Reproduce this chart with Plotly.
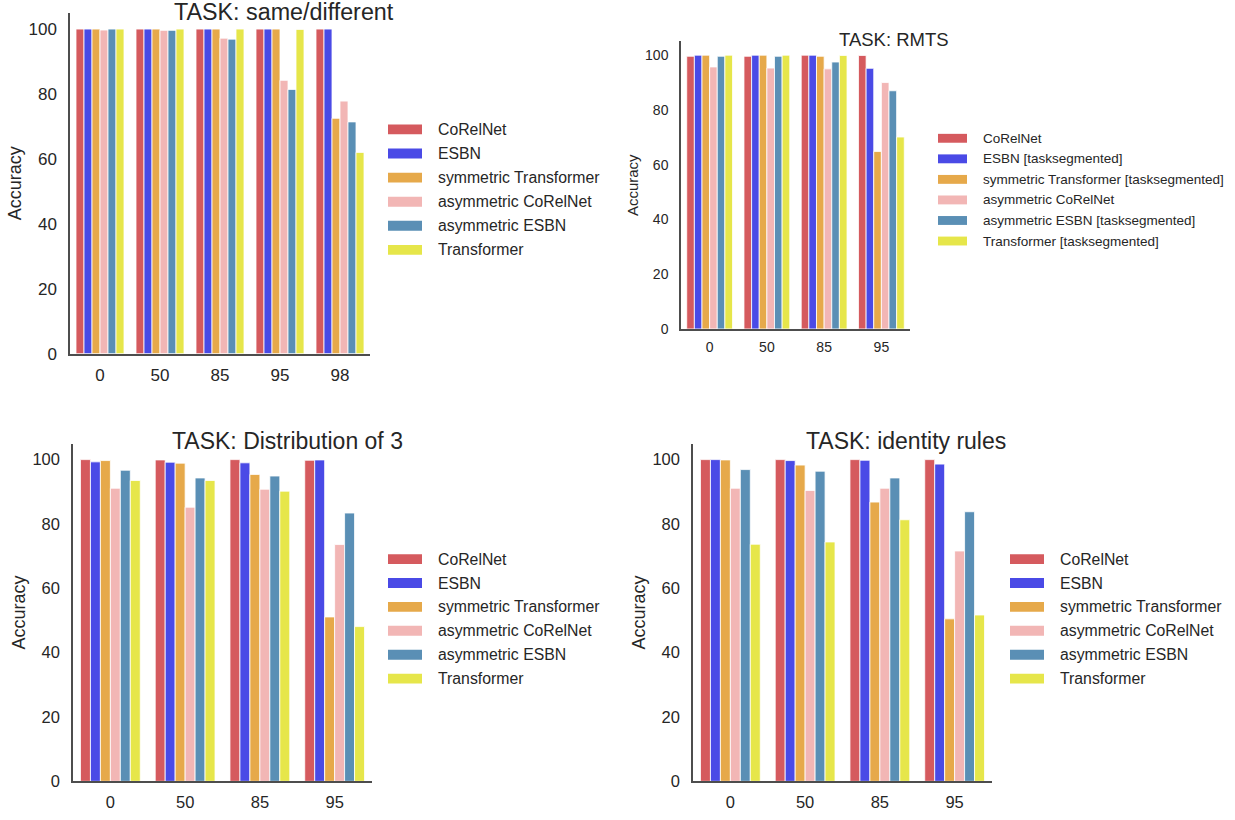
import plotly.graph_objects as go

W, H = 1235, 820

# ---- data -------------------------------------------------------------
models = ["CoRelNet", "ESBN", "symmetric Transformer",
          "asymmetric CoRelNet", "asymmetric ESBN", "Transformer"]
models_rmts = ["CoRelNet", "ESBN [tasksegmented]",
               "symmetric Transformer [tasksegmented]", "asymmetric CoRelNet",
               "asymmetric ESBN [tasksegmented]", "Transformer [tasksegmented]"]
colors = ["#d55a5e", "#4a4ae6", "#e6a94a", "#f2b6b5", "#5a8fb5", "#e6e64a"]

cond_sd = ["0", "50", "85", "95", "98"]
cond_4 = ["0", "50", "85", "95"]

sd_vals = [
    [100, 100, 100, 100, 100],
    [100, 100, 100, 100, 100],
    [100, 100, 100, 100, 72.5],
    [99.7, 99.6, 97.2, 84.2, 77.8],
    [100, 99.6, 96.9, 81.4, 71.4],
    [100, 100, 100, 99.9, 62.0],
]
rmts_vals = [
    [99.6, 99.6, 100, 99.9],
    [100, 100, 100, 95.2],
    [100, 100, 99.6, 64.8],
    [95.7, 95.3, 95.0, 90.0],
    [99.6, 99.6, 97.5, 87.0],
    [100, 100, 99.9, 70.1],
]
dist3_vals = [
    [100, 99.9, 100, 99.8],
    [99.3, 99.2, 99.0, 99.9],
    [99.7, 98.9, 95.4, 51.1],
    [91.1, 85.2, 90.8, 73.6],
    [96.7, 94.3, 94.9, 83.4],
    [93.5, 93.5, 90.2, 48.1],
]
ident_vals = [
    [100, 100, 100, 100],
    [100, 99.7, 99.8, 98.6],
    [99.9, 98.3, 86.8, 50.5],
    [91.1, 90.4, 91.1, 71.6],
    [96.9, 96.4, 94.3, 83.8],
    [73.7, 74.4, 81.3, 51.7],
]

y_ticks = [0, 20, 40, 60, 80, 100]

# ---- panel layout (pixel boxes) --------------------------------------
def px(x):
    return x / W


def py(y):
    return 1 - y / H


TXT = "#262626"
FONT = "Liberation Sans, Arial, sans-serif"

panels = [
    dict(title="TASK: same/different", cats=cond_sd, vals=sd_vals, names=models,
         box=(70, 13, 370, 358), tick=17, title_size=23.3, title_x=172, title_y=12,
         leg_x=388, leg_y0=131, leg_dy=24.4, leg_w=34, leg_h=10, leg_font=15.8,
         ytitle_font=18, standoff=2),
    dict(title="TASK: RMTS", cats=cond_4, vals=rmts_vals, names=models_rmts,
         box=(681, 42, 910, 333), tick=14, title_size=18.5, title_x=837, title_y=40,
         leg_x=938, leg_y0=140, leg_dy=20.8, leg_w=29, leg_h=9, leg_font=13.5,
         ytitle_font=15, standoff=3),
    dict(title="TASK: Distribution of 3", cats=cond_4, vals=dist3_vals, names=models,
         box=(73, 449, 372, 791), tick=16.5, title_size=23, title_x=170, title_y=446,
         leg_x=388, leg_y0=566, leg_dy=24.2, leg_w=34, leg_h=10, leg_font=15.8,
         ytitle_font=18, standoff=2),
    dict(title="TASK: identity rules", cats=cond_4, vals=ident_vals, names=models,
         box=(693, 449, 992, 791), tick=16.5, title_size=23, title_x=804, title_y=446,
         leg_x=1010, leg_y0=566, leg_dy=24.2, leg_w=34, leg_h=10, leg_font=15.8,
         ytitle_font=18, standoff=2),
]

fig = go.Figure()
shapes = []
annotations = []
layout_axes = {}

for i, p in enumerate(panels):
    k = "" if i == 0 else str(i + 1)
    xa, ya = "x" + k, "y" + k
    for name, vals, col in zip(p["names"], p["vals"], colors):
        fig.add_trace(go.Bar(
            x=p["cats"], y=vals, name=name, xaxis=xa, yaxis=ya,
            marker=dict(color=col, line=dict(color="white", width=0.8)),
            showlegend=False,
            offsetgroup=name,
        ))
    x0, y0, x1, y1 = p["box"]
    layout_axes["xaxis" + k] = dict(
        domain=[px(x0), px(x1)], anchor=ya, type="category",
        showline=True, linecolor="#4d4d4d", linewidth=1.5,
        showgrid=False, zeroline=False,
        ticks="outside", ticklen=5, tickcolor="rgba(0,0,0,0)",
        tickfont=dict(size=p["tick"], color=TXT, family=FONT),
        range=[-0.5, len(p["cats"]) - 0.5],
    )
    layout_axes["yaxis" + k] = dict(
        domain=[py(y1), py(y0)], anchor=xa, range=[0, 105],
        tickvals=y_ticks, showline=True, linecolor="#4d4d4d", linewidth=1.5,
        showgrid=False, zeroline=False,
        ticks="outside", ticklen=8, tickcolor="rgba(0,0,0,0)",
        tickfont=dict(size=p["tick"], color=TXT, family=FONT),
        title=dict(text="Accuracy", standoff=p["standoff"],
                   font=dict(size=p["ytitle_font"], color=TXT, family=FONT)),
    )
    annotations.append(dict(
        text=p["title"], x=px(p["title_x"]), y=py(p["title_y"]),
        xref="paper", yref="paper", xanchor="left", yanchor="middle",
        showarrow=False, font=dict(size=p["title_size"], color=TXT, family=FONT),
    ))
    # legend: colour patch + label per series
    for j, (name, col) in enumerate(zip(p["names"], colors)):
        cy = p["leg_y0"] + j * p["leg_dy"]
        shapes.append(dict(
            type="rect", xref="paper", yref="paper",
            x0=px(p["leg_x"]), x1=px(p["leg_x"] + p["leg_w"]),
            y0=py(cy + p["leg_h"] / 2), y1=py(cy - p["leg_h"] / 2),
            fillcolor=col, line=dict(width=0),
        ))
        annotations.append(dict(
            text=name, x=px(p["leg_x"] + p["leg_w"] + 14), y=py(cy),
            xref="paper", yref="paper", xanchor="left", yanchor="middle",
            showarrow=False, font=dict(size=p["leg_font"], color=TXT, family=FONT),
        ))

fig.update_layout(
    width=W, height=H, margin=dict(l=0, r=0, t=0, b=0),
    paper_bgcolor="white", plot_bgcolor="white",
    barmode="group", bargap=0.2, bargroupgap=0,
    shapes=shapes, annotations=annotations,
    font=dict(family=FONT, color=TXT),
    **layout_axes,
)

fig.write_html("out.html")
